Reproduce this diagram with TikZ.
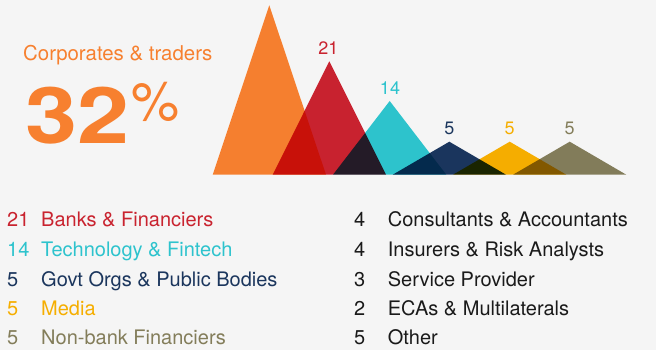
\documentclass[tikz,border=0pt]{standalone}
\usepackage{fontspec}
\setmainfont{TeX Gyre Heros}
\definecolor{bg}{HTML}{F5F5F5}
\definecolor{corp}{HTML}{F7802F}
\definecolor{bank}{HTML}{C9232F}
\definecolor{tech}{HTML}{2DC3CD}
\definecolor{govt}{HTML}{1B365D}
\definecolor{media}{HTML}{F5AE00}
\definecolor{nonbank}{HTML}{837D5A}
% triangle fills compensated for multiply over the background
\definecolor{corpF}{HTML}{FF8531}
\definecolor{bankF}{HTML}{D12431}
\definecolor{techF}{HTML}{2FCBD5}
\definecolor{govtF}{HTML}{1C3861}
\definecolor{mediaF}{HTML}{FFB500}
\definecolor{nonbankF}{HTML}{88825E}
\definecolor{ink}{HTML}{1A1A1A}
\begin{document}
\begin{tikzpicture}[x=1pt,y=-1pt,
  tri/.style={fill=#1,blend mode=multiply},
  lbl/.style={anchor=base,font=\fontsize{18}{20}\selectfont,text=#1,inner sep=0pt},
  leg/.style={anchor=base west,font=\fontsize{20}{22}\selectfont,text=#1,inner sep=0pt}]
\fill[bg] (0,0) rectangle (656,350);
\useasboundingbox (0,0) rectangle (656,350);
% triangles
\fill[tri=corpF]    (212.7,174.7) -- (269.3,5.3)   -- (326,174.7)   -- cycle;
\fill[tri=bankF]    (272.7,174.7) -- (329.3,61.3)  -- (386,174.7)   -- cycle;
\fill[tri=techF]    (333,174.7)   -- (389.7,101)   -- (446.3,174.7) -- cycle;
\fill[tri=govtF]    (392.7,174.7) -- (449.3,141.7) -- (506,174.7)   -- cycle;
\fill[tri=mediaF]   (453,174.7)   -- (509.7,141.7) -- (566.3,174.7) -- cycle;
\fill[tri=nonbankF] (513,174.7)   -- (569.7,141.7) -- (626.3,174.7) -- cycle;
% value labels
\node[lbl=bank]    (v21) at (328.3,54.3) {21};
\node[lbl=tech]    (v14) at (390,94.3) {14};
\node[lbl=govt]    (v5a) at (449.3,134.3) {5};
\node[lbl=media]   (v5b) at (509.7,134.3) {5};
\node[lbl=nonbank] (v5c) at (569.7,134.3) {5};
% headline
\node[anchor=base west,inner sep=0pt,text=corp,font=\fontsize{20.4}{24}\selectfont] (corptxt) at (23,61) {Corporates \& traders};
\node[anchor=base west,inner sep=0pt,text=corp] (big) at (25,143) {\scalebox{1.2}[1]{\fontsize{78}{80}\selectfont\bfseries 32}};
\node[anchor=base west,inner sep=0pt,text=corp] (pct) at (131,121) {\fontsize{54}{56}\selectfont\%};
% legend left
\node[leg=bank]    (l1n) at (7,226.7) {21};
\node[leg=bank]    (l1t) at (41,226.7) {Banks \& Financiers};
\node[leg=tech]    (l2n) at (7,256.7) {14};
\node[leg=tech]    (l2t) at (41,256.7) {Technology \& Fintech};
\node[leg=govt]    (l3n) at (7,286) {5};
\node[leg=govt]    (l3t) at (41,286) {Govt Orgs \& Public Bodies};
\node[leg=media]   (l4n) at (7,315) {5};
\node[leg=media]   (l4t) at (41,315) {Media};
\node[leg=nonbank] (l5n) at (7,344) {5};
\node[leg=nonbank] (l5t) at (41,344) {Non-bank Financiers};
% legend right
\node[leg=ink] (r1n) at (354,226.7) {4};
\node[leg=ink] (r1t) at (387.7,226.7) {Consultants \& Accountants};
\node[leg=ink] (r2n) at (354,256.7) {4};
\node[leg=ink] (r2t) at (387.7,256.7) {Insurers \& Risk Analysts};
\node[leg=ink] (r3n) at (354,286) {3};
\node[leg=ink] (r3t) at (387.7,286) {Service Provider};
\node[leg=ink] (r4n) at (354,315) {2};
\node[leg=ink] (r4t) at (387.7,315) {ECAs \& Multilaterals};
\node[leg=ink] (r5n) at (354,344) {5};
\node[leg=ink] (r5t) at (387.7,344) {Other};
\end{tikzpicture}
\end{document}
